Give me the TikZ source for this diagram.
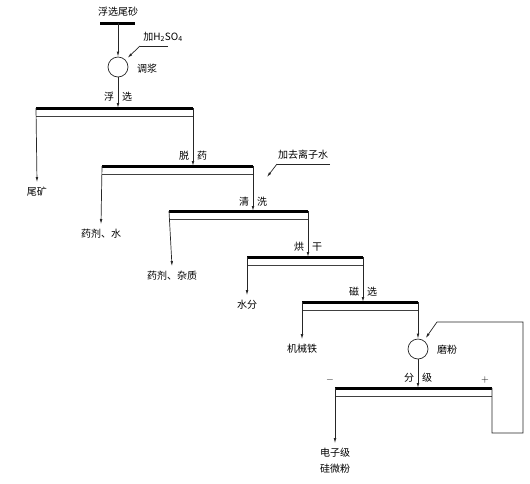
\documentclass[tikz,border=0pt]{standalone}
\usepackage{fontspec}
\setmainfont{Noto Sans CJK SC}
\usepackage{tikz}
\usetikzlibrary{arrows,arrows.meta}
\usetikzlibrary{positioning}
\usetikzlibrary{calc}
\tikzstyle{bar} = [draw, line width=3pt]
\tikzstyle{underln} = [draw, black!75, line width=0.6pt]
\tikzstyle{line} = [draw, black!85, line width=0.7pt, -{Latex[length=5pt,width=2.6pt]}]
\tikzstyle{plainln} = [draw, black!85, line width=0.7pt]
\tikzstyle{txt} = [inner sep=1pt, font=\fontsize{10}{11}\selectfont]
\tikzstyle{product} = [inner sep=5pt, font=\fontsize{10}{11}\selectfont, align=center]
\tikzstyle{mixer} = [circle, draw, black!85, line width=0.7pt, minimum size=20pt, inner sep=0pt]

\begin{document}
\begin{tikzpicture}[x=1pt,y=-1pt]
	\useasboundingbox (0,0) rectangle (530,483);
	% feed and conditioning
	\node [txt] at (118,12) (feed) {浮选尾砂};
	\path [bar] (100,23) -- (135,23);
	\coordinate (f0) at (118,23);
	\node [mixer] at (118,67) (mix) {};
	\node [txt] at (147,69) (mixl) {调浆};
	\node [txt] at (163,37) (acid) {加H\textsubscript{2}SO\textsubscript{4}};
	\coordinate (acid1) at (140,46);
	\coordinate (acid2) at (168,46);
	\path [plainln] (acid2) -- (acid1);
	\path [line, shorten >=3pt] (acid1) -- (mix);
	\path [line] (f0) -- (mix);
	% bars: thick top, thin line below
	\coordinate (b1l) at (36,108);  \coordinate (b1r) at (193,108);
	\coordinate (b2l) at (102,166); \coordinate (b2r) at (253,166);
	\coordinate (b3l) at (169,211); \coordinate (b3r) at (308,211);
	\coordinate (b4l) at (247,257); \coordinate (b4r) at (363,257);
	\coordinate (b5l) at (302,302); \coordinate (b5r) at (418,302);
	\coordinate (b6l) at (335,388); \coordinate (b6r) at (492,388);
	\foreach \b in {b1,b2,b3,b4,b5,b6} {
		\path [bar] (\b l) -- (\b r);
		\path [underln] ($(\b l)+(0,8)$) -- ($(\b r)+(0,8)$);
	}
	% stage labels
	\node [txt] at (118,97) (s1) {浮\hspace{0.8em}选};
	\node [txt] at (193,156) (s2) {脱\hspace{0.8em}药};
	\node [txt] at (253,202) (s3) {清\hspace{0.8em}洗};
	\node [txt] at (308,247) (s4) {烘\hspace{0.8em}干};
	\node [txt] at (363,292) (s5) {磁\hspace{0.8em}选};
	\node [txt] at (418,378) (s6) {分\hspace{0.8em}级};
	\coordinate (in1) at (118,108);
	\path [line] (mix) -- (in1);
	\path [line] (b1r) -- (193,166);
	\path [line] (b2r) -- (253,211);
	\path [line] (b3r) -- (308,257);
	\path [line] (b4r) -- (363,302);
	% water
	\node [txt] at (303,155) (water) {加去离子水};
	\coordinate (w1) at (277,164);
	\coordinate (w2) at (330,164);
	\coordinate (w3) at (267,177);
	\path [plainln] (w2) -- (w1);
	\path [line] (w1) -- (w3);
	% products
	\node [product] at (37,192) (tail) {尾矿};
	\node [product] at (101,234) (o2) {药剂、水};
	\node [product] at (172,276) (o3) {药剂、杂质};
	\node [product] at (247,305) (o4) {水分};
	\node [product] at (302,349) (o5) {机械铁};
	\path [line] (b1l) -- (tail.north);
	\path [line] (b2l) -- (o2.north);
	\path [line] (b3l) -- (o3.north);
	\path [line] (b4l) -- (o4.north);
	\path [line] (b5l) -- (o5.north);
	% grinding and classification
	\node [mixer] at (418,349) (mill) {};
	\node [txt] at (447,350) (milll) {磨粉};
	\path [line] (b5r) -- (mill);
	\coordinate (in6) at (418,388);
	\path [line] (mill) -- (in6);
	\node [txt] at (330,380) (minus) {$-$};
	\node [txt] at (485,380) (plus) {$+$};
	\node [product, font=\fontsize{10}{16}\selectfont] at (335,461) (prod) {电子级\\硅微粉};
	\path [line] (b6l) -- (prod.north);
	\coordinate (r1) at (492,433);
	\coordinate (r2) at (523,433);
	\coordinate (r3) at (523,322);
	\coordinate (r4) at (437,322);
	\path [line, shorten >=3pt] (b6r) -- (r1) -- (r2) -- (r3) -- (r4) -- (mill);
\end{tikzpicture}
\end{document}
